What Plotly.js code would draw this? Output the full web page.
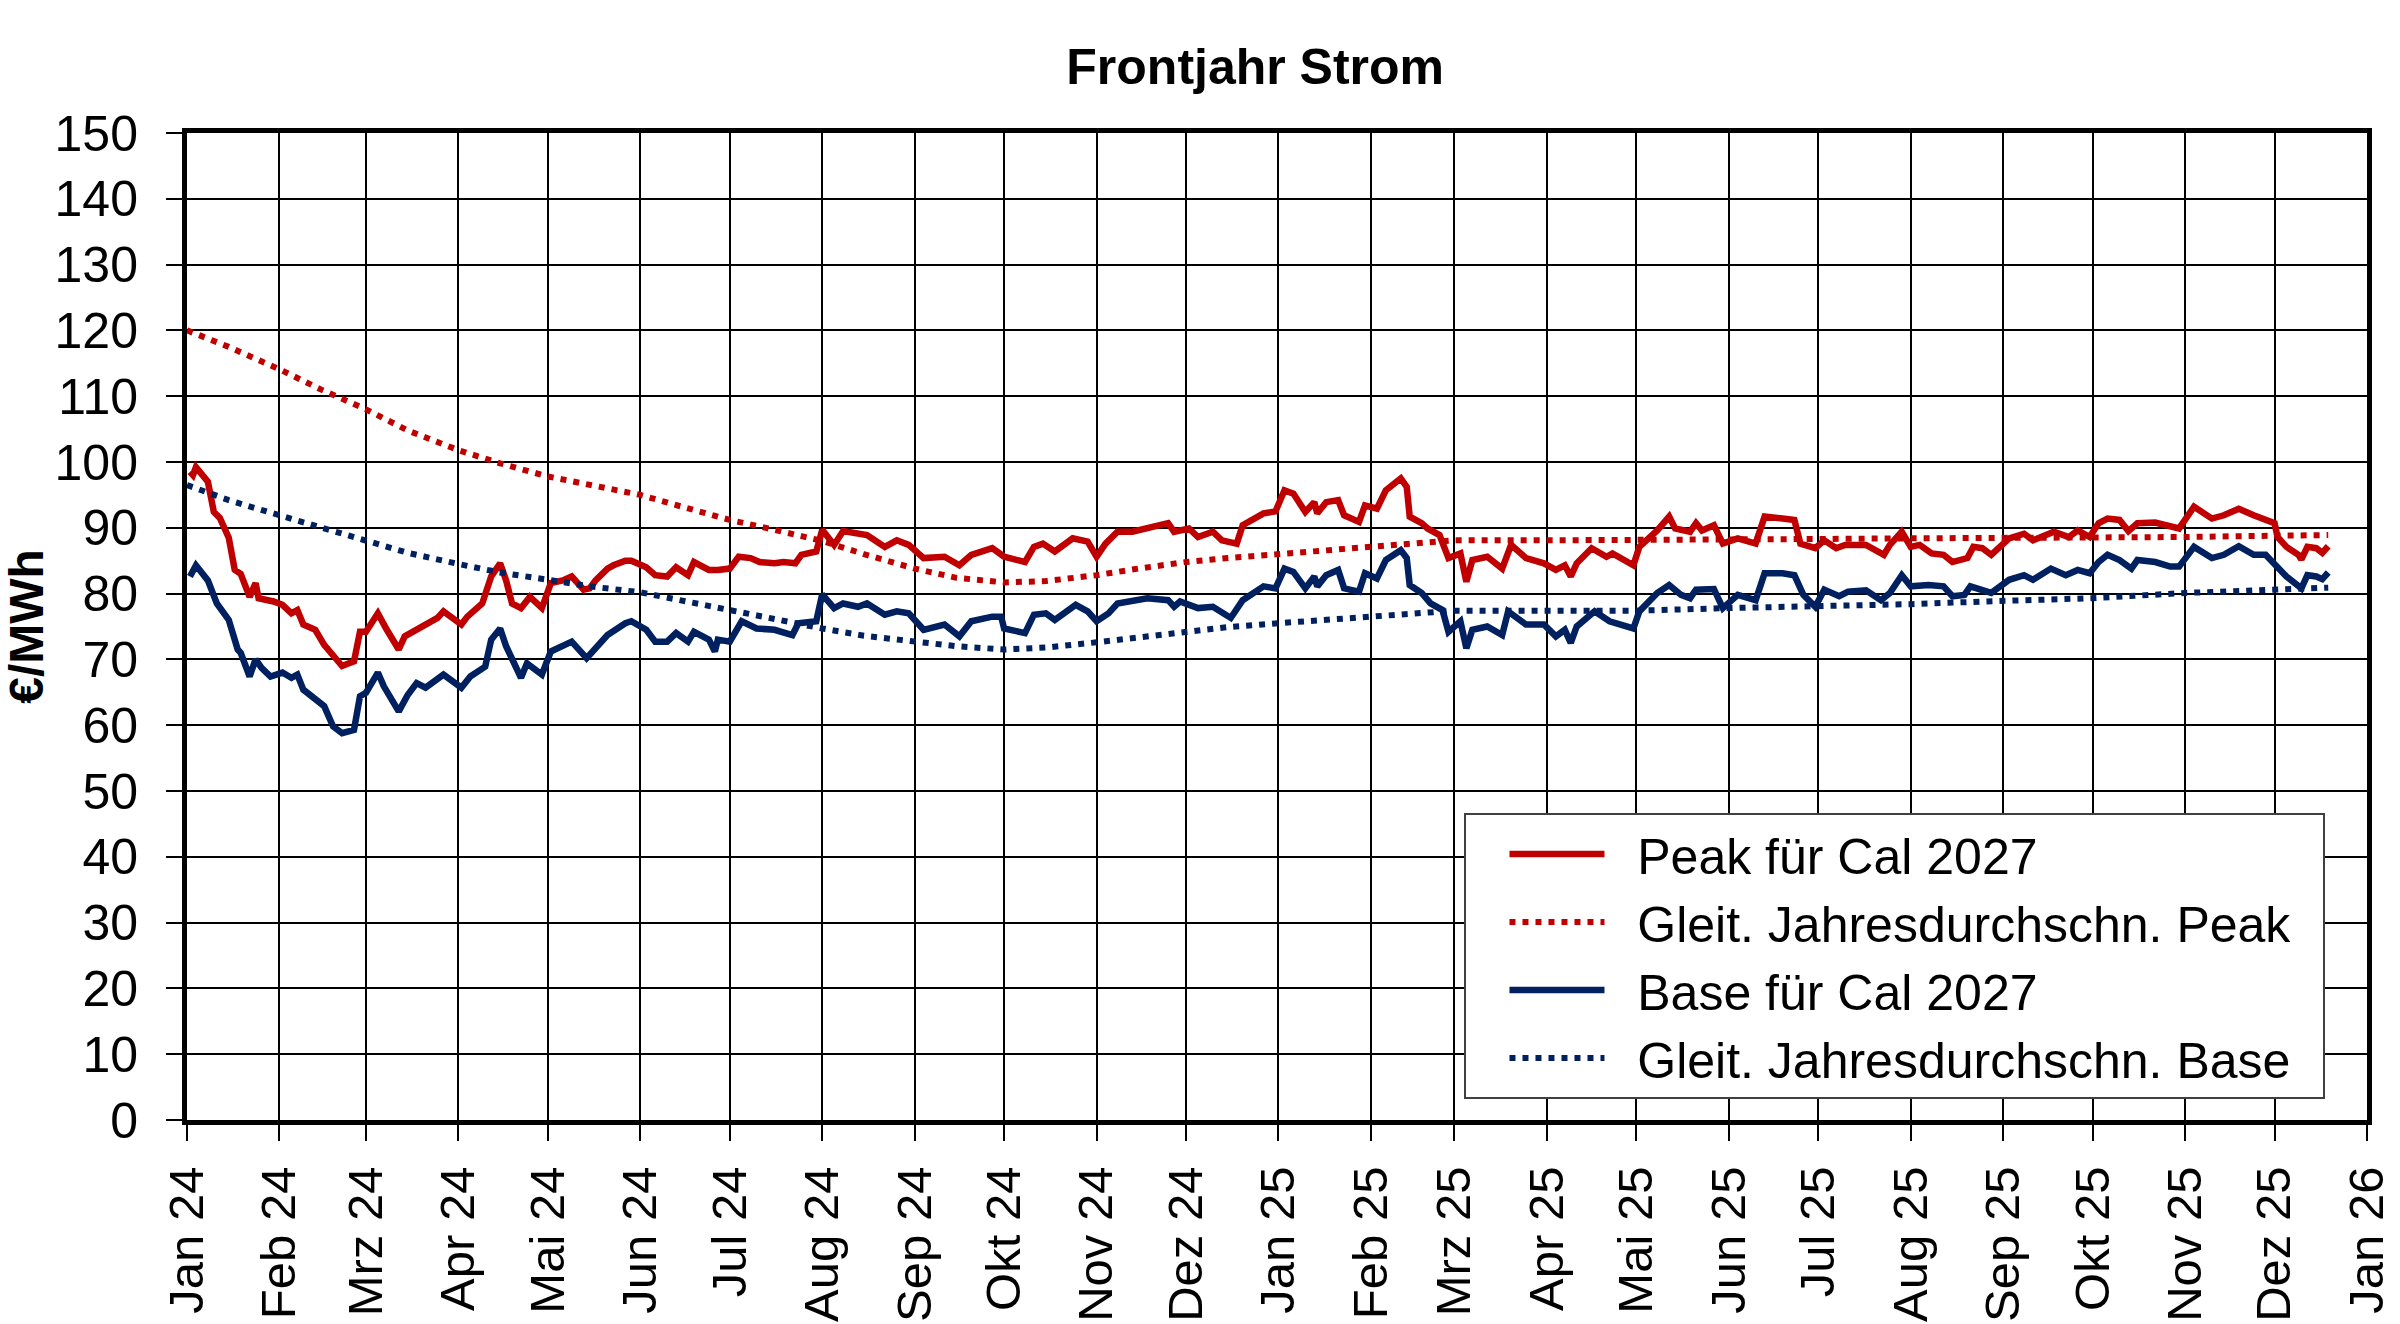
<!DOCTYPE html>
<html>
<head>
<meta charset="utf-8">
<script src="https://cdn.plot.ly/plotly-3.0.1.min.js"></script>
<style>
  html, body { margin: 0; padding: 0; background: #fff; }
  #plot { width: 2400px; height: 1324px; }
</style>
</head>
<body>
<div id="plot"></div>
<script>
// month ticks along the x axis
const tickDates = ['2024-01-01','2024-02-01','2024-03-01','2024-04-01','2024-05-01','2024-06-01',
    '2024-07-01','2024-08-01','2024-09-01','2024-10-01','2024-11-01','2024-12-01',
    '2025-01-01','2025-02-01','2025-03-01','2025-04-01','2025-05-01','2025-06-01',
    '2025-07-01','2025-08-01','2025-09-01','2025-10-01','2025-11-01','2025-12-01','2026-01-01'];
const tickLabels = ['Jan 24','Feb 24','Mrz 24','Apr 24','Mai 24','Jun 24','Jul 24','Aug 24',
    'Sep 24','Okt 24','Nov 24','Dez 24','Jan 25','Feb 25','Mrz 25','Apr 25','Mai 25','Jun 25',
    'Jul 25','Aug 25','Sep 25','Okt 25','Nov 25','Dez 25','Jan 26'];

// Peak für Cal 2027
const peakDates = ['2024-01-02','2024-01-03','2024-01-04','2024-01-08','2024-01-10','2024-01-12','2024-01-15',
    '2024-01-17','2024-01-19','2024-01-22','2024-01-24','2024-01-25','2024-01-30','2024-02-02','2024-02-05',
    '2024-02-07','2024-02-09','2024-02-13','2024-02-16','2024-02-20','2024-02-22','2024-02-26','2024-02-28',
    '2024-03-01','2024-03-05','2024-03-08','2024-03-12','2024-03-14','2024-03-18','2024-03-21','2024-03-25',
    '2024-03-27','2024-04-02','2024-04-04','2024-04-09','2024-04-12','2024-04-15','2024-04-17','2024-04-19',
    '2024-04-22','2024-04-25','2024-04-29','2024-05-02','2024-05-06','2024-05-09','2024-05-13','2024-05-15',
    '2024-05-17','2024-05-21','2024-05-23','2024-05-27','2024-05-29','2024-06-03','2024-06-06','2024-06-10',
    '2024-06-13','2024-06-17','2024-06-19','2024-06-24','2024-06-27','2024-07-01','2024-07-04','2024-07-08',
    '2024-07-11','2024-07-16','2024-07-19','2024-07-23','2024-07-25','2024-07-30','2024-08-01','2024-08-05',
    '2024-08-08','2024-08-14','2024-08-16','2024-08-22','2024-08-26','2024-08-30','2024-09-04','2024-09-11',
    '2024-09-16','2024-09-20','2024-09-24','2024-09-27','2024-10-01','2024-10-08','2024-10-11','2024-10-14',
    '2024-10-18','2024-10-24','2024-10-29','2024-11-01','2024-11-04','2024-11-08','2024-11-13','2024-11-18',
    '2024-11-25','2024-11-27','2024-12-02','2024-12-05','2024-12-10','2024-12-13','2024-12-18','2024-12-20',
    '2024-12-27','2024-12-31','2025-01-03','2025-01-06','2025-01-10','2025-01-13','2025-01-14','2025-01-17',
    '2025-01-21','2025-01-23','2025-01-28','2025-01-30','2025-02-03','2025-02-06','2025-02-11','2025-02-13',
    '2025-02-14','2025-02-18','2025-02-20','2025-02-24','2025-02-27','2025-03-03','2025-03-05','2025-03-07',
    '2025-03-12','2025-03-17','2025-03-20','2025-03-25','2025-03-31','2025-04-04','2025-04-07','2025-04-09',
    '2025-04-11','2025-04-16','2025-04-21','2025-04-23','2025-04-30','2025-05-02','2025-05-08','2025-05-12',
    '2025-05-14','2025-05-19','2025-05-21','2025-05-23','2025-05-27','2025-05-30','2025-06-04','2025-06-10',
    '2025-06-13','2025-06-19','2025-06-23','2025-06-25','2025-06-30','2025-07-03','2025-07-07','2025-07-10',
    '2025-07-17','2025-07-23','2025-07-25','2025-07-29','2025-08-01','2025-08-04','2025-08-08','2025-08-12',
    '2025-08-15','2025-08-20','2025-08-22','2025-08-25','2025-08-28','2025-09-03','2025-09-08','2025-09-11',
    '2025-09-18','2025-09-23','2025-09-26','2025-09-30','2025-10-03','2025-10-06','2025-10-10','2025-10-13',
    '2025-10-16','2025-10-22','2025-10-27','2025-10-30','2025-11-04','2025-11-10','2025-11-14','2025-11-19',
    '2025-11-24','2025-11-28','2025-12-01','2025-12-02','2025-12-05','2025-12-09','2025-12-10','2025-12-12',
    '2025-12-15','2025-12-17','2025-12-19'];
const peakValues = [98.5,98.0,99.2,97,92.4,91.5,88.5,
    83.6,83,79.5,81.6,79.3,78.8,78.3,77,
    77.5,75.3,74.5,72.2,70,69,69.7,74.2,
    74.2,77,74.5,71.5,73.5,74.5,75.5,76.3,
    77.3,75.3,76.5,78.5,82.6,84.6,82,78.5,
    77.8,79.5,77.8,81.6,82,82.6,80.6,80.8,
    82,83.8,84.3,85,85,84,82.8,82.6,
    84,82.8,84.8,83.6,83.6,83.8,85.6,85.4,
    84.8,84.6,84.8,84.6,85.9,86.4,89.7,87.4,
    89.5,89.1,88.9,87.1,88.1,87.4,85.4,85.6,
    84.3,85.9,86.6,86.9,85.6,84.8,87.1,87.6,
    86.4,88.4,87.9,85.6,87.6,89.4,89.4,89.9,
    90.7,89.4,89.9,88.6,89.4,88.1,87.6,90.4,
    92.2,92.5,95.7,95.2,92.4,93.9,92.2,93.9,
    94.2,91.9,90.9,93.4,92.9,95.7,97.5,96.2,
    91.7,90.7,89.9,88.9,85.4,86.1,81.8,85.1,
    85.6,83.8,87.4,85.4,84.6,83.6,84.3,82.6,
    84.6,86.9,85.6,86.1,84.3,87.1,89.6,91.7,
    89.9,89.4,90.7,89.6,90.4,87.6,88.4,87.6,
    91.7,91.4,91.2,87.6,86.9,88.1,86.9,87.4,
    87.4,85.9,87.4,89.4,87.1,87.4,86.1,85.9,
    84.8,85.4,87.1,86.9,85.9,88.4,89.1,88.1,
    89.4,88.6,89.6,88.6,90.7,91.4,91.2,89.5,
    90.7,90.8,90.1,89.9,93.2,91.4,91.9,92.9,
    91.9,91.2,90.7,88.6,87.1,85.9,85.2,87.1,
    86.9,86.2,87.2];

// Base für Cal 2027
const baseDates = ['2024-01-02','2024-01-04','2024-01-08','2024-01-11','2024-01-15','2024-01-18','2024-01-19',
    '2024-01-22','2024-01-24','2024-01-26','2024-01-29','2024-02-02','2024-02-05','2024-02-07','2024-02-09',
    '2024-02-13','2024-02-16','2024-02-19','2024-02-22','2024-02-26','2024-02-28','2024-03-01','2024-03-05',
    '2024-03-07','2024-03-12','2024-03-15','2024-03-18','2024-03-21','2024-03-27','2024-04-02','2024-04-05',
    '2024-04-10','2024-04-12','2024-04-15','2024-04-17','2024-04-22','2024-04-24','2024-04-29','2024-05-02',
    '2024-05-09','2024-05-14','2024-05-21','2024-05-27','2024-05-29','2024-06-03','2024-06-06','2024-06-10',
    '2024-06-13','2024-06-17','2024-06-19','2024-06-24','2024-06-26','2024-06-27','2024-07-01','2024-07-05',
    '2024-07-10','2024-07-16','2024-07-22','2024-07-24','2024-07-30','2024-08-01','2024-08-05','2024-08-08',
    '2024-08-13','2024-08-16','2024-08-22','2024-08-26','2024-08-30','2024-09-04','2024-09-11','2024-09-16',
    '2024-09-20','2024-09-27','2024-09-30','2024-10-01','2024-10-08','2024-10-11','2024-10-15','2024-10-18',
    '2024-10-25','2024-10-29','2024-11-01','2024-11-05','2024-11-08','2024-11-18','2024-11-25','2024-11-27',
    '2024-11-29','2024-12-05','2024-12-10','2024-12-16','2024-12-20','2024-12-27','2024-12-31','2025-01-03',
    '2025-01-06','2025-01-10','2025-01-13','2025-01-14','2025-01-17','2025-01-21','2025-01-23','2025-01-28',
    '2025-01-30','2025-02-03','2025-02-06','2025-02-11','2025-02-13','2025-02-14','2025-02-18','2025-02-21',
    '2025-02-25','2025-02-27','2025-03-03','2025-03-05','2025-03-07','2025-03-12','2025-03-17','2025-03-19',
    '2025-03-25','2025-03-31','2025-04-04','2025-04-07','2025-04-09','2025-04-11','2025-04-17','2025-04-22',
    '2025-04-30','2025-05-02','2025-05-08','2025-05-12','2025-05-16','2025-05-19','2025-05-21','2025-05-27',
    '2025-05-30','2025-06-04','2025-06-10','2025-06-13','2025-06-19','2025-06-23','2025-06-26','2025-06-30',
    '2025-07-03','2025-07-08','2025-07-11','2025-07-17','2025-07-22','2025-07-25','2025-07-29','2025-08-01',
    '2025-08-07','2025-08-12','2025-08-15','2025-08-19','2025-08-21','2025-08-28','2025-09-03','2025-09-08',
    '2025-09-11','2025-09-17','2025-09-22','2025-09-26','2025-09-30','2025-10-03','2025-10-06','2025-10-10',
    '2025-10-14','2025-10-16','2025-10-22','2025-10-27','2025-10-30','2025-11-04','2025-11-10','2025-11-14',
    '2025-11-19','2025-11-24','2025-11-28','2025-12-02','2025-12-05','2025-12-10','2025-12-12','2025-12-15',
    '2025-12-17','2025-12-19'];
const baseValues = [82.6,84.3,82,78.5,76,71.5,71,
    67.4,70,68.7,67.4,68,67.2,67.7,65.4,
    63.9,62.9,59.8,58.8,59.3,64.4,64.9,68,
    65.9,62.1,64.6,66.4,65.7,67.7,65.7,67.4,
    68.9,73,74.7,72,67.2,69.4,67.7,71.2,
    72.7,70.2,73.7,75.5,75.8,74.5,72.7,72.7,
    74,72.7,74.2,73,71.2,73,72.7,75.8,
    74.7,74.5,73.7,75.5,75.8,79.9,77.8,78.5,
    78,78.5,76.8,77.3,77,74.5,75.3,73.5,
    75.8,76.5,76.5,74.7,74,76.8,77,76,
    78.3,77.3,75.8,77,78.5,79.3,79,78,
    78.8,77.8,78,76.3,79,81.1,80.8,83.8,
    83.3,80.8,82.6,81.1,82.8,83.6,80.8,80.3,
    83.1,82.3,85.1,86.6,85.4,81.3,80.1,78.5,
    77.5,74.2,75.8,71.7,74.5,75,73.7,77.3,
    75.3,75.3,73.5,74.5,72.5,75,77.3,75.8,
    74.7,77.3,80.1,81.3,79.8,79.3,80.6,80.7,
    77.8,79.8,79,83.1,83.1,82.8,79.8,78,
    80.6,79.6,80.3,80.5,79,80.1,82.8,81.1,
    81.3,81.1,79.6,79.8,81.1,80.1,82.1,82.8,
    82.1,83.8,82.8,83.6,83.1,84.8,85.9,85.1,
    83.8,85.1,84.8,84.1,84.1,87.1,85.4,85.9,
    87.2,85.9,85.9,83.8,82.6,80.8,82.8,82.6,
    82.2,83.2];

// Gleit. Jahresdurchschn. Peak
const peakAvgDates = ['2024-01-01','2024-01-15','2024-02-01','2024-02-15','2024-03-01','2024-03-15',
    '2024-04-01','2024-04-15','2024-05-01','2024-05-15','2024-06-01','2024-06-15','2024-07-01','2024-07-15',
    '2024-08-01','2024-08-15','2024-09-01','2024-09-15','2024-10-01','2024-10-15','2024-11-01','2024-11-15',
    '2024-12-01','2024-12-15','2025-01-01','2025-01-15','2025-02-01','2025-02-15','2025-03-01','2025-04-01',
    '2025-05-01','2025-06-01','2025-07-01','2025-08-01','2025-09-01','2025-10-01','2025-11-01','2025-12-01',
    '2025-12-19'];
const peakAvgValues = [120,117.5,114.1,111,108,104.8,
    101.8,99.8,97.8,96.5,95,93.2,91.2,89.8,
    88,86,83.8,82.4,81.7,81.9,82.8,83.8,
    84.8,85.4,86,86.6,87.2,87.8,88.1,88.1,
    88.1,88.2,88.3,88.4,88.4,88.5,88.6,88.8,
    88.9];

// Gleit. Jahresdurchschn. Base
const baseAvgDates = peakAvgDates;
const baseAvgValues = [96.5,94.2,91.9,90,88.1,86.2,
    84.5,83.2,82.1,81.1,80.2,78.9,77.5,76.1,
    74.7,73.6,72.7,72,71.5,71.8,72.6,73.4,
    74.2,74.9,75.5,76,76.5,77,77.4,77.4,
    77.4,77.8,78,78.4,78.9,79.3,80.1,80.7,
    80.9];

const red = '#C00000';
const navy = '#002060';
const fontFamily = '"Liberation Sans", Arial, sans-serif';
// small gap between the legend line sample and its text, like the original
const pad = '\u00a0\u00a0';

let data = [
    {x: peakDates, y: peakValues, name: pad + 'Peak für Cal 2027' + pad, type: 'scatter', mode: 'lines',
        line: {color: red, width: 6.5}},
    {x: peakAvgDates, y: peakAvgValues, name: pad + 'Gleit. Jahresdurchschn. Peak' + pad, type: 'scatter', mode: 'lines',
        line: {color: red, width: 6, dash: '6px,7px'}},
    {x: baseDates, y: baseValues, name: pad + 'Base für Cal 2027' + pad, type: 'scatter', mode: 'lines',
        line: {color: navy, width: 6.5}},
    {x: baseAvgDates, y: baseAvgValues, name: pad + 'Gleit. Jahresdurchschn. Base' + pad, type: 'scatter', mode: 'lines',
        line: {color: navy, width: 6, dash: '6px,7px'}}
];

let layout = {
    width: 2400,
    height: 1324,
    margin: {l: 187, r: 33, t: 133, b: 204, pad: 0},
    paper_bgcolor: '#fff',
    plot_bgcolor: '#fff',
    font: {family: fontFamily, color: '#000'},
    title: {
        text: '<b>Frontjahr Strom</b>',
        font: {family: fontFamily, size: 50, color: '#000'},
        xref: 'container', x: 0.523, xanchor: 'center',
        yref: 'container', y: 0.95, yanchor: 'middle'
    },
    xaxis: {
        type: 'date',
        range: ['2024-01-01', '2026-01-01'],
        tickmode: 'array',
        tickvals: tickDates,
        ticktext: tickLabels,
        tickangle: -90,
        tickfont: {size: 49, color: '#000'},
        ticklabeloverflow: 'allow',
        ticklabelstandoff: 6,
        ticks: 'outside', ticklen: 16, tickwidth: 2, tickcolor: '#000',
        showgrid: true, gridcolor: '#000', gridwidth: 2,
        showline: true, linecolor: '#000', linewidth: 5, mirror: true,
        zeroline: false
    },
    yaxis: {
        range: [0, 150],
        tick0: 0, dtick: 10,
        tickfont: {size: 50, color: '#000'},
        ticklabelstandoff: 18,
        ticks: 'outside', ticklen: 16, tickwidth: 2, tickcolor: '#000',
        showgrid: true, gridcolor: '#000', gridwidth: 2,
        showline: true, linecolor: '#000', linewidth: 5, mirror: true,
        zeroline: false,
        title: {text: '<b>€/MWh</b>', font: {size: 48, color: '#000'}, standoff: 0}
    },
    showlegend: true,
    legend: {
        x: 0.586, y: 0.311, xanchor: 'left', yanchor: 'top',
        bgcolor: '#fff', bordercolor: '#404040', borderwidth: 2,
        font: {size: 50, color: '#000'},
        itemwidth: 95,
        indentation: 38,
        tracegroupgap: 0
    }
};

Plotly.newPlot('plot', data, layout, {displayModeBar: false, staticPlot: true});
</script>
</body>
</html>
